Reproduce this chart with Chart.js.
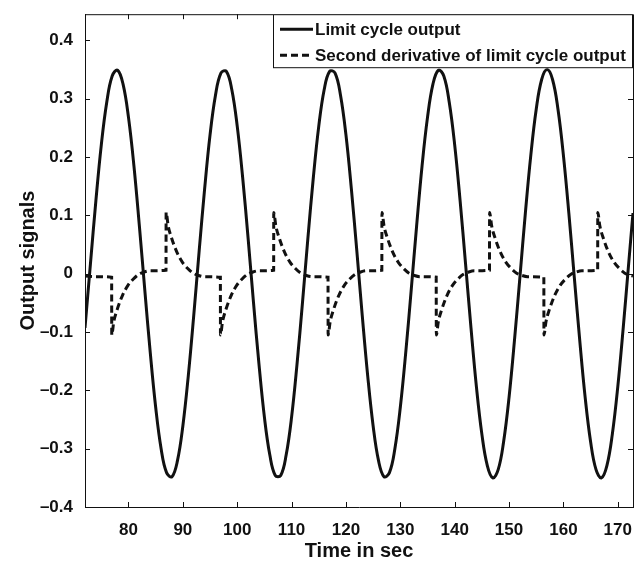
<!DOCTYPE html>
<html>
<head>
<meta charset="utf-8">
<script src="https://cdn.jsdelivr.net/npm/chart.js@4.4.1/dist/chart.umd.min.js"></script>
<style>
  html, body { margin: 0; padding: 0; background: #fff; }
</style>
</head>
<body>
<canvas id="plot" width="641" height="567"></canvas>
<script>
// time axis (sec) and limit cycle output
const limitTime = [72, 73, 74, 75, 76, 77, 78, 79, 80, 81, 82, 83, 84, 85, 86, 87, 88, 89, 90, 91,
  92, 93, 94, 95, 96, 97, 98, 99, 100, 101, 102, 103, 104, 105, 106, 107, 108, 109, 110, 111,
  112, 113, 114, 115, 116, 117, 118, 119, 120, 121, 122, 123, 124, 125, 126, 127, 128, 129, 130, 131,
  132, 133, 134, 135, 136, 137, 138, 139, 140, 141, 142, 143, 144, 145, 146, 147, 148, 149, 150, 151,
  152, 153, 154, 155, 156, 157, 158, 159, 160, 161, 162, 163, 164, 165, 166, 167, 168, 169, 170, 171,
  172, 172.8];
const limitValue = [-0.093, 0.017, 0.125, 0.221, 0.294, 0.339, 0.349, 0.325, 0.268, 0.185,
  0.082, -0.028, -0.135, -0.229, -0.300, -0.341, -0.348, -0.321, -0.261, -0.175,
  -0.072, 0.039, 0.145, 0.238, 0.306, 0.344, 0.347, 0.316, 0.253, 0.165,
  0.061, -0.050, -0.155, -0.246, -0.311, -0.346, -0.346, -0.311, -0.246, -0.155,
  -0.050, 0.061, 0.165, 0.253, 0.316, 0.347, 0.344, 0.306, 0.238, 0.145,
  0.039, -0.072, -0.175, -0.261, -0.321, -0.348, -0.341, -0.300, -0.229, -0.135,
  -0.028, 0.082, 0.185, 0.268, 0.325, 0.349, 0.339, 0.294, 0.221, 0.125,
  0.017, -0.093, -0.194, -0.275, -0.329, -0.350, -0.336, -0.288, -0.212, -0.114,
  -0.006, 0.104, 0.203, 0.282, 0.333, 0.350, 0.333, 0.282, 0.203, 0.104,
  -0.006, -0.114, -0.212, -0.288, -0.336, -0.350, -0.329, -0.275, -0.194, -0.093,
  0.017, 0.104];

// second derivative: jumps at the switching instants, then decays to ~0
const derivTime = [72, 74, 76.9,
  76.92, 77.3, 77.9, 78.9, 79.9, 80.9, 81.9, 82.9, 83.9, 86.9,
  86.92, 87.3, 87.9, 88.9, 89.9, 90.9, 91.9, 92.9, 93.9, 96.9,
  96.92, 97.3, 97.9, 98.9, 99.9, 100.9, 101.9, 102.9, 103.9, 106.7,
  106.72, 107.1, 107.7, 108.7, 109.7, 110.7, 111.7, 112.7, 113.7, 116.7,
  116.72, 117.1, 117.7, 118.7, 119.7, 120.7, 121.7, 122.7, 123.7, 126.6,
  126.62, 127.0, 127.6, 128.6, 129.6, 130.6, 131.6, 132.6, 133.6, 136.6,
  136.62, 137.0, 137.6, 138.6, 139.6, 140.6, 141.6, 142.6, 143.6, 146.4,
  146.42, 146.8, 147.4, 148.4, 149.4, 150.4, 151.4, 152.4, 153.4, 156.4,
  156.42, 156.8, 157.4, 158.4, 159.4, 160.4, 161.4, 162.4, 163.4, 166.3,
  166.32, 166.7, 167.3, 168.3, 169.3, 170.3, 171.3, 172.3, 172.8];
const derivValue = [-0.004, -0.005, -0.006,
  -0.105, -0.082, -0.062, -0.037, -0.020, -0.009, -0.001, 0.003, 0.005, 0.006,
  0.105, 0.082, 0.062, 0.037, 0.020, 0.009, 0.001, -0.003, -0.005, -0.006,
  -0.105, -0.082, -0.062, -0.037, -0.020, -0.009, -0.001, 0.003, 0.005, 0.006,
  0.105, 0.082, 0.062, 0.037, 0.020, 0.009, 0.001, -0.003, -0.005, -0.006,
  -0.105, -0.082, -0.062, -0.037, -0.020, -0.009, -0.001, 0.003, 0.005, 0.006,
  0.105, 0.082, 0.062, 0.037, 0.020, 0.009, 0.001, -0.003, -0.005, -0.006,
  -0.105, -0.082, -0.062, -0.037, -0.020, -0.009, -0.001, 0.003, 0.005, 0.006,
  0.105, 0.082, 0.062, 0.037, 0.020, 0.009, 0.001, -0.003, -0.005, -0.006,
  -0.105, -0.082, -0.062, -0.037, -0.020, -0.009, -0.001, 0.003, 0.005, 0.006,
  0.105, 0.082, 0.062, 0.037, 0.020, 0.009, 0.001, -0.003, -0.004];

const xTicks = [80, 90, 100, 110, 120, 130, 140, 150, 160, 170];
const yTicks = [-0.4, -0.3, -0.2, -0.1, 0, 0.1, 0.2, 0.3, 0.4];
const seriesNames = ['Limit cycle output', 'Second derivative of limit cycle output'];

const FONT = '"Liberation Sans", Arial, Helvetica, sans-serif';
const INK = '#111';
Chart.defaults.font.family = FONT;
Chart.defaults.color = INK;

// top/right frame lines and inward tick marks on all four sides
const framePlugin = {
  id: 'frame',
  afterDraw(chart) {
    const { ctx, chartArea: a, scales } = chart;
    const len = 5;
    ctx.save();
    ctx.strokeStyle = INK;
    ctx.lineWidth = 1;
    ctx.beginPath();
    ctx.moveTo(a.left, a.top + 0.5);
    ctx.lineTo(a.right + 0.5, a.top + 0.5);
    ctx.lineTo(a.right + 0.5, a.bottom);
    xTicks.forEach(v => {
      const px = Math.round(scales.x.getPixelForValue(v)) + 0.5;
      ctx.moveTo(px, a.bottom); ctx.lineTo(px, a.bottom - len);
      ctx.moveTo(px, a.top); ctx.lineTo(px, a.top + len);
    });
    yTicks.forEach(v => {
      const py = Math.round(scales.y.getPixelForValue(v)) + 0.5;
      ctx.moveTo(a.left, py); ctx.lineTo(a.left + len, py);
      ctx.moveTo(a.right, py); ctx.lineTo(a.right - len, py);
    });
    ctx.stroke();
    ctx.restore();
  }
};

// boxed legend in the upper right corner of the plot
const legendBox = {
  id: 'legendBox',
  afterDraw(chart) {
    const { ctx, chartArea: a } = chart;
    const w = 360, h = 54;
    const x0 = a.right - w, y0 = a.top;
    ctx.save();
    ctx.fillStyle = '#fff';
    ctx.fillRect(x0, y0, w, h);
    ctx.strokeStyle = INK;
    ctx.lineWidth = 1;
    ctx.strokeRect(x0 + 0.5, y0 + 0.5, w - 1, h - 1);
    ctx.font = 'bold 17px ' + FONT;
    ctx.textBaseline = 'middle';
    ctx.fillStyle = INK;
    chart.data.datasets.forEach((ds, i) => {
      const y = y0 + 15 + i * 26;
      ctx.beginPath();
      ctx.lineWidth = 3;
      ctx.setLineDash(ds.borderDash || []);
      ctx.moveTo(x0 + 7, y);
      ctx.lineTo(x0 + 40, y);
      ctx.stroke();
      ctx.setLineDash([]);
      ctx.fillText(seriesNames[i], x0 + 42, y + 1);
    });
    ctx.restore();
  }
};

const fmt = v => v === 0 ? '0' : (v < 0 ? '\u2013' : '') + Math.abs(v).toFixed(1);

new Chart(document.getElementById('plot'), {
  type: 'line',
  data: {
    datasets: [{
      label: seriesNames[0],
      data: limitTime.map((t, i) => ({ x: t, y: limitValue[i] })),
      borderColor: INK,
      borderWidth: 3,
      pointRadius: 0,
      tension: 0.4,
      fill: false
    }, {
      label: seriesNames[1],
      data: derivTime.map((t, i) => ({ x: t, y: derivValue[i] })),
      borderColor: INK,
      borderWidth: 3,
      borderDash: [7, 4],
      pointRadius: 0,
      cubicInterpolationMode: 'monotone',
      fill: false
    }]
  },
  options: {
    responsive: false,
    devicePixelRatio: 1,
    animation: false,
    layout: { padding: { top: 7, right: 8, left: 0, bottom: 0 } },
    scales: {
      x: {
        type: 'linear',
        min: 72,
        max: 172.8,
        afterBuildTicks: s => { s.ticks = xTicks.map(v => ({ value: v })); },
        afterFit: s => { s.height = 60; },
        grid: { display: false },
        border: { display: true, color: INK, width: 1 },
        ticks: { font: { size: 17, weight: 'bold' }, color: INK, padding: 5, maxRotation: 0, autoSkip: false },
        title: { display: true, text: 'Time in sec', font: { size: 20, weight: 'bold' }, color: INK, padding: { top: 0, bottom: 4 } }
      },
      y: {
        min: -0.4,
        max: 0.445,
        afterBuildTicks: s => { s.ticks = yTicks.map(v => ({ value: v })); },
        afterFit: s => { s.width = 85; },
        grid: { display: false },
        border: { display: true, color: INK, width: 1 },
        ticks: { font: { size: 17, weight: 'bold' }, color: INK, padding: 4, autoSkip: false, callback: v => fmt(v) },
        title: { display: true, text: 'Output signals', font: { size: 20, weight: 'bold' }, color: INK, padding: { top: 16, bottom: 0 } }
      }
    },
    plugins: {
      legend: { display: false },
      tooltip: { enabled: false }
    }
  },
  plugins: [framePlugin, legendBox]
});
</script>
</body>
</html>
